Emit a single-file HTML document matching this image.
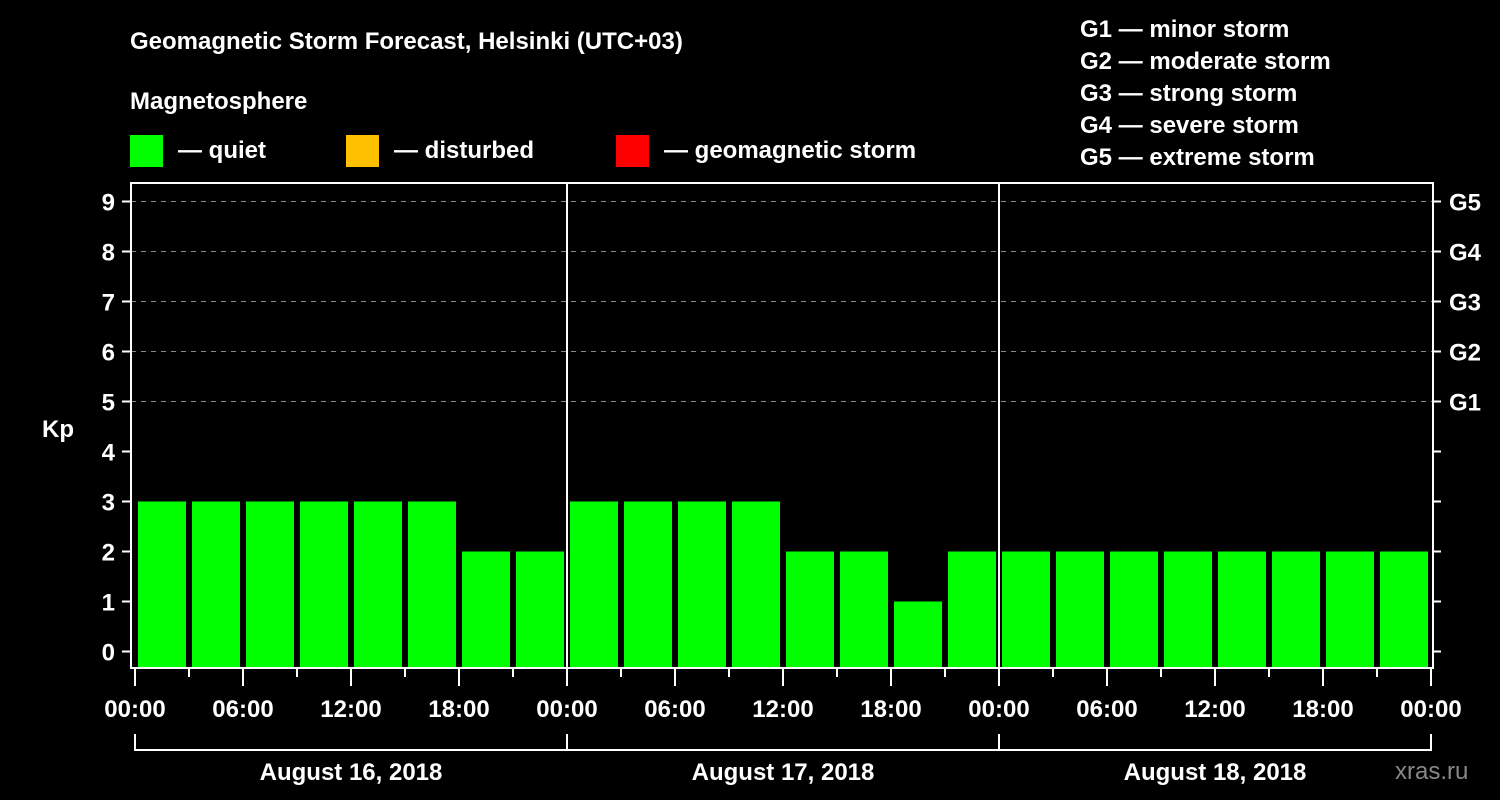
<!DOCTYPE html>
<html><head><meta charset="utf-8"><style>
html,body{margin:0;padding:0;background:#000;width:1500px;height:800px;overflow:hidden}
svg{display:block;font-family:"Liberation Sans",Arial,sans-serif;font-weight:bold}
</style></head><body>
<svg id="chart" width="1500" height="800" viewBox="0 0 1500 800" xmlns="http://www.w3.org/2000/svg">
<rect width="1500" height="800" fill="#000"/>
<text x="130" y="49" fill="#fff" font-size="24">Geomagnetic Storm Forecast, Helsinki (UTC+03)</text>
<text x="130" y="109" fill="#fff" font-size="24">Magnetosphere</text>
<g><rect x="130" y="135" width="33" height="32" fill="#00ff00"/><text x="178" y="158" fill="#fff" font-size="24">— quiet</text></g>
<g><rect x="346" y="135" width="33" height="32" fill="#ffc000"/><text x="394" y="158" fill="#fff" font-size="24">— disturbed</text></g>
<g><rect x="616" y="135" width="33" height="32" fill="#ff0000"/><text x="664" y="158" fill="#fff" font-size="24">— geomagnetic storm</text></g>
<g fill="#fff" font-size="24">
<text x="1080" y="37">G1 — minor storm</text>
<text x="1080" y="69">G2 — moderate storm</text>
<text x="1080" y="101">G3 — strong storm</text>
<text x="1080" y="133">G4 — severe storm</text>
<text x="1080" y="165">G5 — extreme storm</text>
</g>
<text x="42" y="437" fill="#fff" font-size="24">Kp</text>
<text x="1395" y="779" fill="#888" font-size="24" font-weight="normal">xras.ru</text>
<g id="grid"></g><g id="bars"></g><g id="axes"></g>
</svg>
<script>
const kpValues = [3,3,3,3,3,3,2,2, 3,3,3,3,2,2,1,2, 2,2,2,2,2,2,2,2];
const dayLabels = ["August 16, 2018","August 17, 2018","August 18, 2018"];
const timeLabels = ["00:00","06:00","12:00","18:00"];
const yTicks = [0,1,2,3,4,5,6,7,8,9];
const gLabels = ["G1","G2","G3","G4","G5"];
const NS="http://www.w3.org/2000/svg";
const X0=135, SLOT=54, PL=131, PR=1433, PT=183, PB=668;
const xS = i => X0 + i*SLOT;
const yS = v => 651.5 - v*50;
function mk(tag, attrs, parent, txt){const e=document.createElementNS(NS,tag);for(const k in attrs)e.setAttribute(k,attrs[k]);if(txt!==undefined)e.textContent=txt;parent.appendChild(e);return e;}
const grid=document.getElementById('grid'), bars=document.getElementById('bars'), axes=document.getElementById('axes');
yTicks.forEach(v=>{
  if(v>=5){const l=mk('line',{x1:PL,x2:PR,y1:yS(v),y2:yS(v),stroke:'#888','stroke-width':1,'stroke-dasharray':'5,5'},grid);
  
  }
  const t=mk('line',{x1:122,x2:PL,y1:yS(v),y2:yS(v),stroke:'#fff','stroke-width':2},axes);
  
  
  const r=mk('line',{x1:PR,x2:1441,y1:yS(v),y2:yS(v),stroke:'#fff','stroke-width':2},axes);
  
  
  const lb=mk('text',{x:115,y:yS(v)+9,fill:'#fff','font-size':24,'text-anchor':'end'},axes,String(v));
  
  
});
gLabels.forEach((g,i)=>{
  const t=mk('text',{x:1449,y:yS(5+i)+9,fill:'#fff','font-size':24},axes,g);
  
  
});
kpValues.forEach((v,i)=>{
  const col = v>=5?'#ff0000':(v>=4?'#ffc000':'#00ff00');
  const b=mk('rect',{x:xS(i)+3,y:yS(v),width:48,height:PB-yS(v),fill:col},bars);
  
  
});
// frame
const fr=mk('path',{d:`M${PL},${PB} V${PT} H${PR} V${PB} Z`,fill:'none',stroke:'#fff','stroke-width':2},axes);


for(let i=0;i<=kpValues.length;i++){
  const major=i%2===0;
  const t=mk('line',{x1:xS(i),x2:xS(i),y1:PB,y2:major?686:677,stroke:'#fff','stroke-width':2},axes);
  
  
  if(major){
    const lb=mk('text',{x:xS(i),y:717,fill:'#fff','font-size':24,'text-anchor':'middle'},axes,timeLabels[(i/2)%4]);
    
    
  }
}
dayLabels.forEach((d,k)=>{
  const x0=xS(k*8), x1=xS((k+1)*8);
  if(k>0){const s=mk('line',{x1:x0,x2:x0,y1:PT,y2:PB,stroke:'#fff','stroke-width':2},axes);
  
  }
  const br=mk('path',{d:`M${x0},734 V750 H${x1} V734`,fill:'none',stroke:'#fff','stroke-width':2},axes);
  
  
  const t=mk('text',{x:(x0+x1)/2,y:780,fill:'#fff','font-size':24,'text-anchor':'middle'},axes,d);
  
  
});
</script>
</body></html>
